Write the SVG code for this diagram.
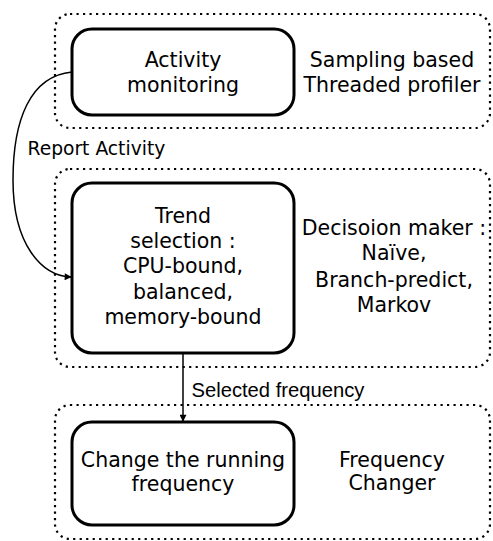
<svg xmlns="http://www.w3.org/2000/svg" width="493" height="541" viewBox="0 0 493 541">
<style>
.cont{fill:none;stroke:#000;stroke-width:2.2;stroke-dasharray:2.2 4.3}
.box{fill:#fff;stroke:#000;stroke-width:3}
.t{font-family:"DejaVu Sans",sans-serif;font-size:20.5px;fill:#000;text-anchor:middle}
.lbl{font-family:"DejaVu Sans",sans-serif;font-size:18.7px;fill:#000}
.lbl2{font-family:"Liberation Sans",Arial,sans-serif;font-size:20.2px;fill:#000}
.edge{fill:none;stroke:#000;stroke-width:1.5}
</style>
<defs>
<marker id="arr" viewBox="0 0 10 10" refX="9" refY="5" markerWidth="8" markerHeight="7" markerUnits="userSpaceOnUse" orient="auto">
<path d="M0,0 L10,5 L0,10 z" fill="#000"/>
</marker>
</defs>
<g id="profiler">
<rect class="cont" x="55" y="14" width="435" height="114" rx="15"/>
<text class="t" x="392" y="67">Sampling based</text>
<text class="t" x="392" y="92">Threaded profiler</text>
</g>
<g id="decision">
<rect class="cont" x="55" y="169" width="435" height="198" rx="15"/>
<text class="t" x="394" y="235">Decisoion maker :</text>
<text class="t" x="394" y="260">Naïve,</text>
<text class="t" x="394" y="287">Branch-predict,</text>
<text class="t" x="394" y="312">Markov</text>
</g>
<g id="changer">
<rect class="cont" x="55" y="405" width="435" height="134" rx="15"/>
<text class="t" x="392" y="467">Frequency</text>
<text class="t" x="392" y="490">Changer</text>
</g>
<g id="activity">
<rect class="box" x="72" y="29" width="222" height="86" rx="20"/>
<text class="t" x="183" y="67">Activity</text>
<text class="t" x="183" y="92">monitoring</text>
</g>
<g id="trend">
<rect class="box" x="72" y="183" width="222" height="170" rx="20"/>
<text class="t" x="183" y="223">Trend</text>
<text class="t" x="183" y="248">selection :</text>
<text class="t" x="183" y="273">CPU-bound,</text>
<text class="t" x="183" y="299">balanced,</text>
<text class="t" x="183" y="324">memory-bound</text>
</g>
<g id="change">
<rect class="box" x="72" y="422" width="222" height="103" rx="20"/>
<text class="t" x="183" y="467">Change the running</text>
<text class="t" x="183" y="491">frequency</text>
</g>
<g id="connectors">
<path class="edge" d="M72,72 C30,76 13,120 13,180 C13,245 42,276 71,277" marker-end="url(#arr)"/>
<text class="lbl" x="27.5" y="154.5">Report Activity</text>
<path class="edge" d="M183,353 L183,421" marker-end="url(#arr)"/>
<text class="lbl2" x="191.5" y="397">Selected frequency</text>
</g>
</svg>
